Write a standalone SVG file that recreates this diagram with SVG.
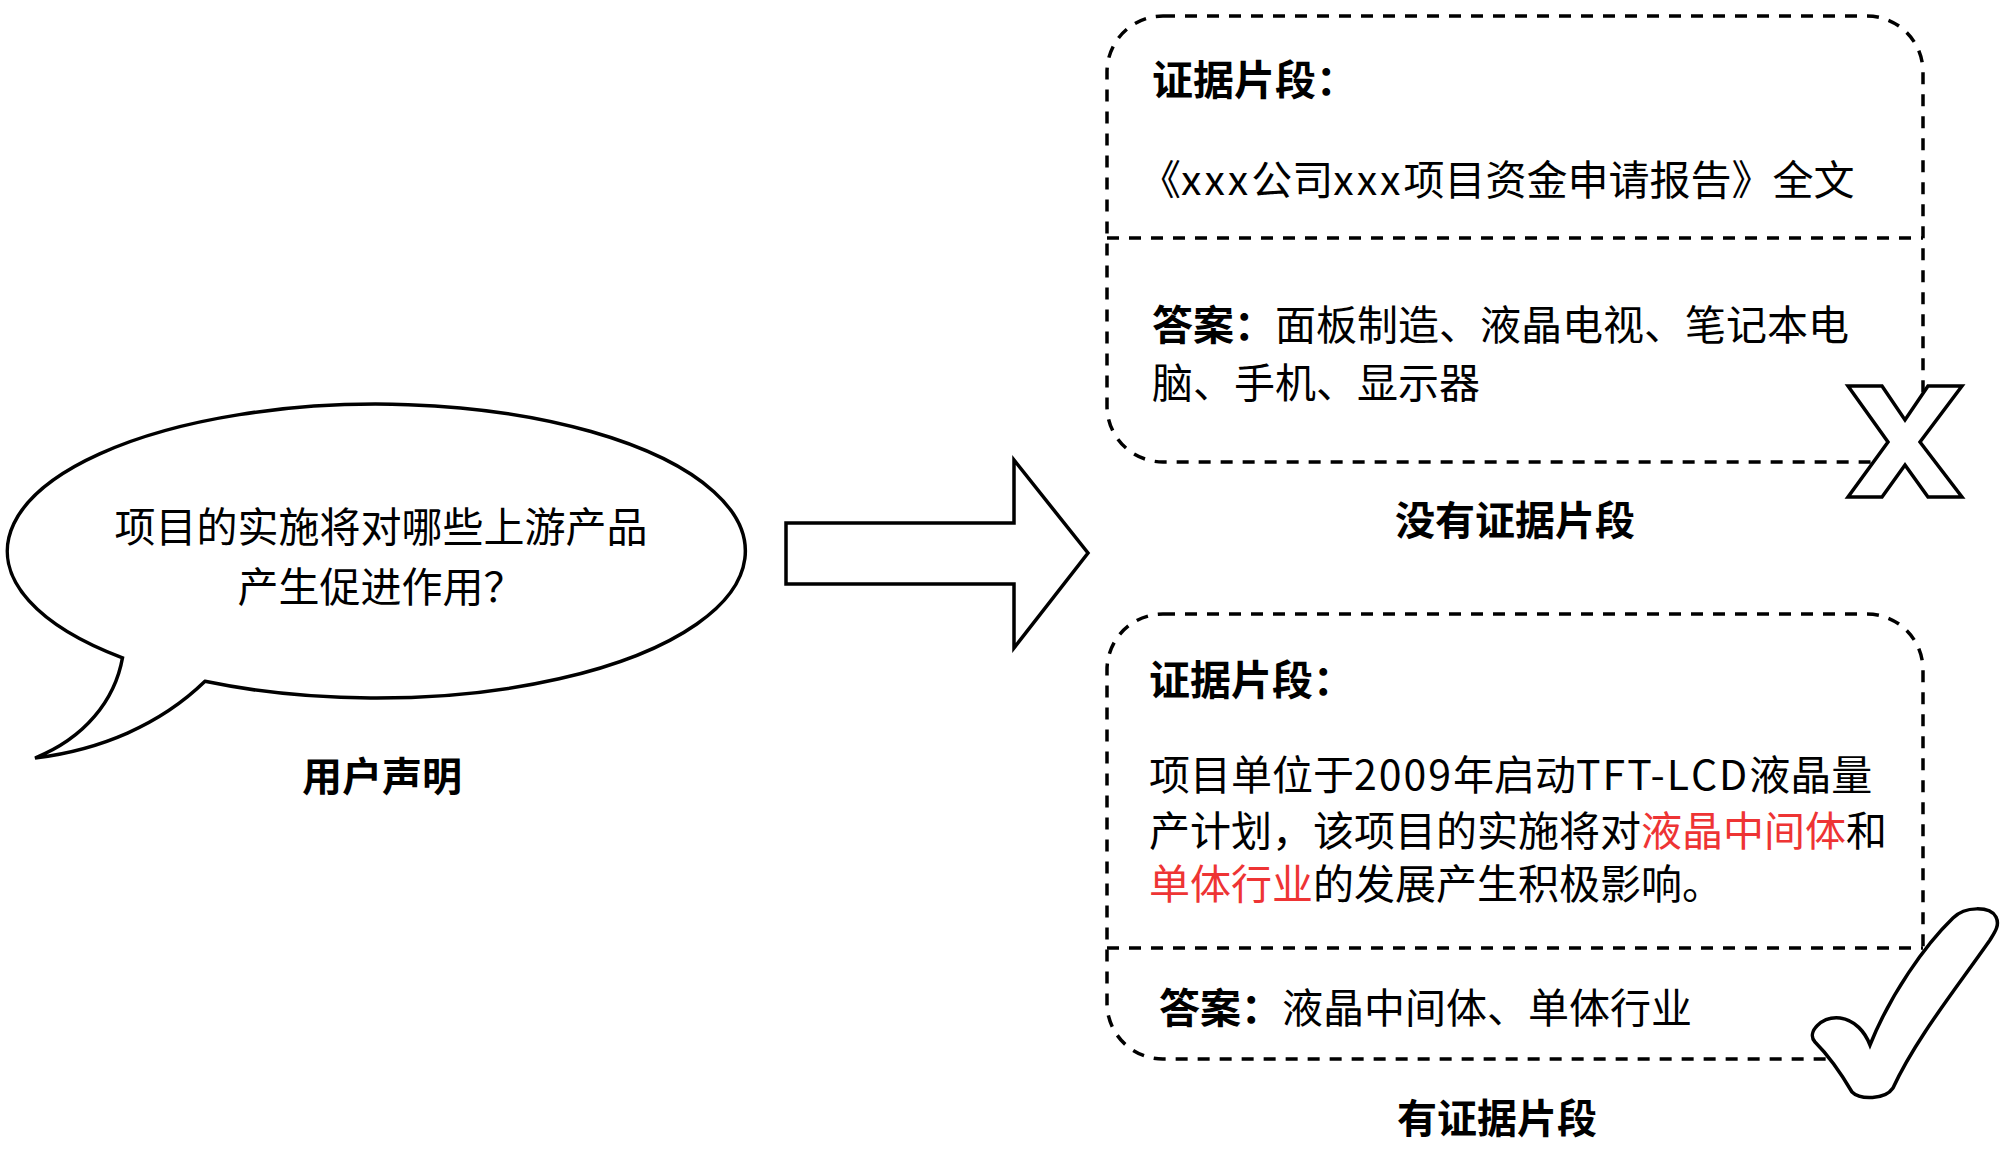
<svg xmlns="http://www.w3.org/2000/svg" width="2000" height="1149" viewBox="0 0 2000 1149">
<style>
text{font-family:"Noto Sans CJK SC","Noto Sans",sans-serif;fill:#000}
.b{font-weight:700}
.t{font-size:41px}
.lbl{font-size:40px;font-weight:700}
.red{fill:#ee3434}
.wide{letter-spacing:3px}
.lat{letter-spacing:2px}
.shape{fill:#fff;stroke:#000;stroke-width:3.5;stroke-linejoin:miter}
.dash{fill:none;stroke:#000;stroke-width:3.5;stroke-dasharray:12 10}
</style>
<rect width="2000" height="1149" fill="#fff"/>
<g id="bubble">
<path class="shape" d="M122.5,657.8 C115,700 85,738 35,758 C100,750 160,725 205,681.3 A369 147 0 1 0 122.5,657.8 Z"/>
<text class="t" x="381" y="542" text-anchor="middle">项目的实施将对哪些上游产品</text>
<text class="t" x="381" y="602" text-anchor="middle">产生促进作用？</text>
<text class="lbl" x="382" y="791" text-anchor="middle">用户声明</text>
</g>
<g id="connectors">
<polygon class="shape" stroke-width="4" points="786,523 1014,523 1014,460 1088,553 1014,648 1014,584 786,584"/>
</g>
<g id="no-evidence">
<path class="dash" d="M1163,16 H1867 A56 56 0 0 1 1923,72 V406 A56 56 0 0 1 1867,462 H1163 A56 56 0 0 1 1107,406 V72 A56 56 0 0 1 1163,16 Z"/>
<path class="dash" d="M1107,238 H1923"/>
<text class="t b" x="1152" y="95">证据片段：</text>
<text class="t" x="1140" y="195">《<tspan class="wide">xxx</tspan>公司<tspan class="wide">xxx</tspan>项目资金申请报告》全文</text>
<text class="t" x="1152" y="340"><tspan class="b">答案：</tspan>面板制造、液晶电视、笔记本电</text>
<text class="t" x="1152" y="398">脑、手机、显示器</text>
<polygon class="shape" points="1848,386 1882,386 1905,420 1928,386 1962,386 1920,442 1962,497 1928,497 1905,465 1882,497 1848,497 1888,442"/>
<text class="lbl" x="1515" y="535" text-anchor="middle">没有证据片段</text>
</g>
<g id="with-evidence">
<path class="dash" d="M1163,614 H1867 A56 56 0 0 1 1923,670 V1003 A56 56 0 0 1 1867,1059 H1163 A56 56 0 0 1 1107,1003 V670 A56 56 0 0 1 1163,614 Z"/>
<path class="dash" d="M1107,948 H1923"/>
<text class="t b" x="1149" y="695">证据片段：</text>
<text class="t" x="1149" y="790">项目单位于<tspan class="lat">2009</tspan>年启动<tspan class="lat">TFT-LCD</tspan>液晶量</text>
<text class="t" x="1149" y="846">产计划，该项目的实施将对<tspan class="red">液晶中间体</tspan>和</text>
<text class="t" x="1149" y="899"><tspan class="red">单体行业</tspan>的发展产生积极影响。</text>
<text class="t" x="1159" y="1023"><tspan class="b">答案：</tspan>液晶中间体、单体行业</text>
<path class="shape" d="M1870,1045 C1890,995 1925,945 1953,918 C1965,906 1990,906 1996,917 C2000,925 1995,932 1990,940 C1955,990 1915,1040 1893,1088 C1885,1100 1860,1100 1852,1092 C1842,1075 1828,1055 1815,1042 C1806,1032 1822,1016 1840,1018 C1855,1020 1865,1032 1870,1045 Z"/>
<text class="lbl" x="1497" y="1133" text-anchor="middle">有证据片段</text>
</g>
</svg>
